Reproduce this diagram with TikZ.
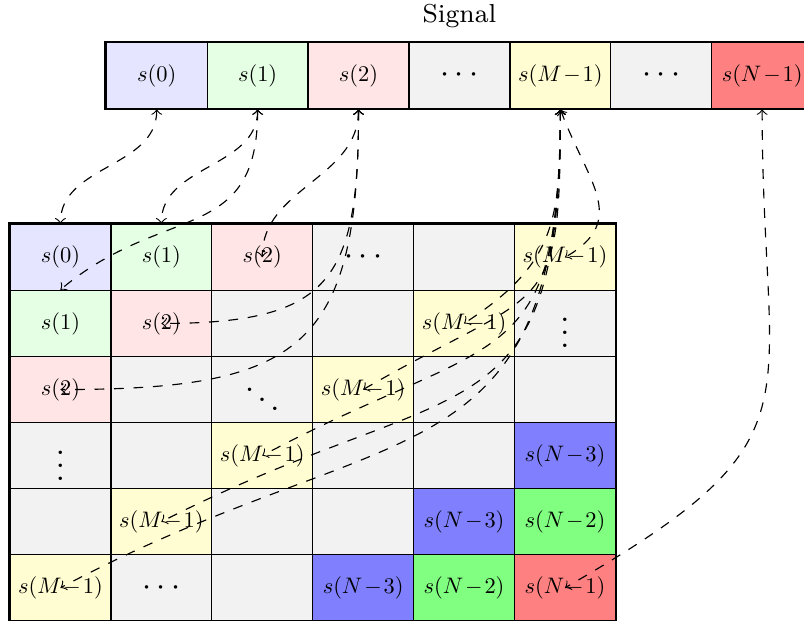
\documentclass[tikz,border=0pt]{standalone}
\newcommand{\hk}[1]{\scalebox{0.69}{$#1$}}
\newcommand{\mo}{\mkern1.5mu{-}\mkern1.5mu}
\begin{document}
\begin{tikzpicture}[x=0.3077pt,y=0.3077pt,
  cell/.style={draw=black, line width=0.4pt, minimum width=31.05pt, minimum height=20.34pt, inner sep=0pt, font=\normalsize},
  dotcell/.style={cell},
  fzero/.style={fill=blue!10}, fone/.style={fill=green!10}, ftwo/.style={fill=red!10},
  fgray/.style={fill=gray!10}, fmone/.style={fill=yellow!18},
  fnthree/.style={fill=blue!50}, fntwo/.style={fill=green!50}, fnone/.style={fill=red!50},
  link/.style={<->, dashed, line width=0.35pt},
  frame/.style={draw=black, line width=0.75pt}]
\useasboundingbox (0,0) rectangle (804,-621);
\clip (0,0) rectangle (804,-621);
% title
\node[font=\footnotesize] (title) at (459.45,-16) {Signal};
% signal row
\node[cell,fzero] (t0) at (156.75,-75.5) {\hk{s(0)}};
\node[cell,fone] (t1) at (257.65,-75.5) {\hk{s(1)}};
\node[cell,ftwo] (t2) at (358.55,-75.5) {\hk{s(2)}};
\node[dotcell,fgray] (t3) at (459.45,-75.5) {$\cdots$};
\node[cell,fmone] (t4) at (560.35,-75.5) {\hk{s(M\mo 1)}};
\node[dotcell,fgray] (t5) at (661.25,-75.5) {$\cdots$};
\node[cell,fnone] (t6) at (762.15,-75.5) {\hk{s(N\mo 1)}\hspace{3.9pt}};
\draw[frame] (t0.north west) rectangle (t6.south east);
% matrix
\node[cell,fzero] (m00) at (60.45,-257.35) {\hk{s(0)}};
\node[cell,fone] (m01) at (161.35,-257.35) {\hk{s(1)}};
\node[cell,ftwo] (m02) at (262.25,-257.35) {\hk{s(2)}};
\node[dotcell,fgray] (m03) at (363.15,-257.35) {$\cdots$};
\node[cell,fgray] (m04) at (464.05,-257.35) {};
\node[cell,fmone] (m05) at (564.95,-257.35) {\hk{s(M\mo 1)}};
\node[cell,fone] (m10) at (60.45,-323.45) {\hk{s(1)}};
\node[cell,ftwo] (m11) at (161.35,-323.45) {\hk{s(2)}};
\node[cell,fgray] (m12) at (262.25,-323.45) {};
\node[cell,fgray] (m13) at (363.15,-323.45) {};
\node[cell,fmone] (m14) at (464.05,-323.45) {\hk{s(M\mo 1)}};
\node[dotcell,fgray] (m15) at (564.95,-323.45) {$\vdots$};
\node[cell,ftwo] (m20) at (60.45,-389.55) {\hk{s(2)}};
\node[cell,fgray] (m21) at (161.35,-389.55) {};
\node[dotcell,fgray] (m22) at (262.25,-389.55) {$\ddots$};
\node[cell,fmone] (m23) at (363.15,-389.55) {\hk{s(M\mo 1)}};
\node[cell,fgray] (m24) at (464.05,-389.55) {};
\node[cell,fgray] (m25) at (564.95,-389.55) {};
\node[dotcell,fgray] (m30) at (60.45,-455.65) {$\vdots$};
\node[cell,fgray] (m31) at (161.35,-455.65) {};
\node[cell,fmone] (m32) at (262.25,-455.65) {\hk{s(M\mo 1)}};
\node[cell,fgray] (m33) at (363.15,-455.65) {};
\node[cell,fgray] (m34) at (464.05,-455.65) {};
\node[cell,fnthree] (m35) at (564.95,-455.65) {\hk{s(N\mo 3)}};
\node[cell,fgray] (m40) at (60.45,-521.75) {};
\node[cell,fmone] (m41) at (161.35,-521.75) {\hk{s(M\mo 1)}};
\node[cell,fgray] (m42) at (262.25,-521.75) {};
\node[cell,fgray] (m43) at (363.15,-521.75) {};
\node[cell,fnthree] (m44) at (464.05,-521.75) {\hk{s(N\mo 3)}};
\node[cell,fntwo] (m45) at (564.95,-521.75) {\hk{s(N\mo 2)}};
\node[cell,fmone] (m50) at (60.45,-587.85) {\hk{s(M\mo 1)}};
\node[dotcell,fgray] (m51) at (161.35,-587.85) {$\cdots$};
\node[cell,fgray] (m52) at (262.25,-587.85) {};
\node[cell,fnthree] (m53) at (363.15,-587.85) {\hk{s(N\mo 3)}};
\node[cell,fntwo] (m54) at (464.05,-587.85) {\hk{s(N\mo 2)}};
\node[cell,fnone] (m55) at (564.95,-587.85) {\hk{s(N\mo 1)}};
\draw[frame] (m00.north west) rectangle (m55.south east);
% links
\draw[link] (t0.south) to[out=-90,in=90] (m00.north);
\draw[link] (t1.south) to[out=-90,in=90] (m01.north);
\draw[link] (t1.south) to[out=-90,in=40,looseness=1.3] (m10.north);
\draw[link] (t2.south) to[out=-90,in=90] (m02.center);
\draw[link] (t2.south) to[out=-90,in=0,looseness=1.5] (m11.center);
\draw[link] (t2.south) to[out=-90,in=0,looseness=1.5] (m20.center);
\draw[link] (t4.south) to[out=-70,in=30,looseness=1.3] (m05.center);
\draw[link] (t4.south) to[out=-90,in=33,looseness=1.2] (m14.center);
\draw[link] (t4.south) to[out=-90,in=30,looseness=1.6] (m23.center);
\draw[link] (t4.south) to[out=-90,in=28,looseness=1.5] (m32.center);
\draw[link] (t4.south) to[out=-90,in=27,looseness=1.5] (m41.center);
\draw[link] (t4.south) to[out=-90,in=28,looseness=1.4] (m50.center);
\draw[link] (t6.south) to[out=-90,in=30,looseness=1.5] (m55.center);
\end{tikzpicture}
\end{document}
